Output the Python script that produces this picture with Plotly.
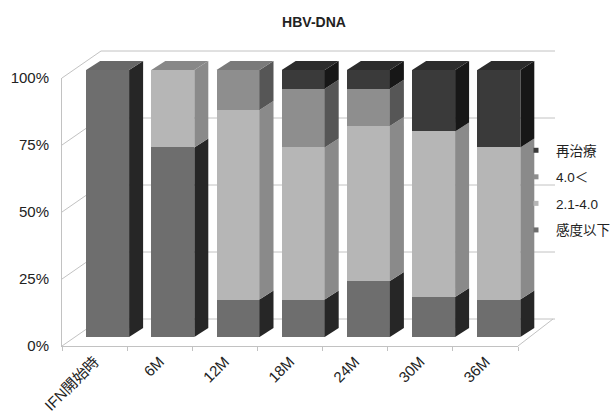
import plotly.graph_objects as go

# ---------------- data ----------------
categories = ["IFN開始時", "6M", "12M", "18M", "24M", "30M", "36M"]
series_names = ["感度以下", "2.1-4.0", "4.0＜", "再治療"]
kando_ika = [100, 71, 14, 14, 21, 15, 14]
v_21_40 = [0, 29, 71, 57, 58, 62, 57]
v_over40 = [0, 0, 15, 22, 14, 0, 0]
saichiryo = [0, 0, 0, 7, 7, 23, 29]
y_tick_vals = [0, 25, 50, 75, 100]
y_tick_text = ["0%", "25%", "50%", "75%", "100%"]
title_text = "HBV-DNA"

series_values = [kando_ika, v_21_40, v_over40, saichiryo]

# ---------------- styles ----------------
front_colors = ["#6e6e6e", "#b6b6b6", "#8e8e8e", "#3a3a3a"]
side_colors = ["#262626", "#8a8a8a", "#565656", "#171717"]
top_colors = ["#686868", "#888888", "#7a7a7a", "#2c2c2c"]
grid_color = "#c2c2c2"
FONT = "Liberation Sans, Arial, Noto Sans CJK JP, sans-serif"

W, H = 610, 415

def fx(p):
    return p / W

def fy(p):
    return 1 - p / H

# front (label) axis geometry in pixels
AX_L, AX_R = 62, 518
AX_Y0, AX_Y100 = 346, 78
# wall depth offset
WALL_DX, WALL_DY = 39, 27
WALL_R = 555

# bar axis geometry in pixels
BAR_X0 = 75          # left edge of slot area
SLOT = 65.2
BAR_XEND = 565
BAR_Y0, BAR_Y100 = 337, 70
BAR_YTOP = 45
BAR_W_PX = 43
DEPTH_DX_PX, DEPTH_DY_PX = 14, 9

n = len(categories)
x2_range = [-0.5, -0.5 + (BAR_XEND - BAR_X0) / SLOT]
y_unit_px = (BAR_Y0 - BAR_Y100) / 100.0
y2_range = [0, (BAR_Y0 - BAR_YTOP) / y_unit_px]
bw = BAR_W_PX / SLOT
ddx = DEPTH_DX_PX / SLOT
ddy = DEPTH_DY_PX / y_unit_px

fig = go.Figure()

# invisible trace to register category axis
fig.add_trace(go.Scatter(x=categories, y=[0] * n, mode="markers",
                         marker=dict(opacity=0), showlegend=False,
                         hoverinfo="skip", xaxis="x", yaxis="y"))

xs = list(range(n))
# front faces
for name, vals, col in zip(series_names, series_values, front_colors):
    fig.add_trace(go.Bar(x=xs, y=vals, width=bw, name=name,
                         marker=dict(color=col, line=dict(width=0)),
                         showlegend=False, xaxis="x2", yaxis="y2",
                         customdata=[categories[i] for i in xs],
                         hovertemplate="%{customdata} " + name + ": %{y}%<extra></extra>"))

# side and top faces derived from the stacked values
for i in xs:
    base = 0
    xr = i + bw / 2
    xl = i - bw / 2
    last_k = max(k for k in range(len(series_values)) if series_values[k][i] > 0)
    for k, vals in enumerate(series_values):
        v = vals[i]
        if v <= 0:
            continue
        top = base + v
        fig.add_trace(go.Scatter(
            x=[xr, xr + ddx, xr + ddx, xr, xr],
            y=[base, base + ddy, top + ddy, top, base],
            fill="toself", fillcolor=side_colors[k], mode="lines",
            line=dict(width=0), showlegend=False, hoverinfo="skip",
            xaxis="x2", yaxis="y2"))
        if k == last_k:
            fig.add_trace(go.Scatter(
                x=[xl, xr, xr + ddx, xl + ddx, xl],
                y=[top, top, top + ddy, top + ddy, top],
                fill="toself", fillcolor=top_colors[k], mode="lines",
                line=dict(width=0), showlegend=False, hoverinfo="skip",
                xaxis="x2", yaxis="y2"))
        base = top

# legend entries (top to bottom order)
for k in reversed(range(len(series_names))):
    fig.add_trace(go.Scatter(x=[None], y=[None], mode="markers",
                             marker=dict(symbol="square", size=5, color=front_colors[k]),
                             name=series_names[k], legendgroup=series_names[k],
                             xaxis="x", yaxis="y"))

# walls / floor decoration
def y_front_px(v):
    return AX_Y0 - (AX_Y0 - AX_Y100) * v / 100.0

shapes = []
for v in y_tick_vals:
    yf = y_front_px(v)
    yb = yf - WALL_DY
    shapes.append(dict(type="line", xref="paper", yref="paper", layer="below",
                       x0=fx(AX_L), y0=fy(yf), x1=fx(AX_L + WALL_DX), y1=fy(yb),
                       line=dict(color=grid_color, width=1)))
    shapes.append(dict(type="line", xref="paper", yref="paper", layer="below",
                       x0=fx(AX_L + WALL_DX), y0=fy(yb), x1=fx(WALL_R), y1=fy(yb),
                       line=dict(color=grid_color, width=1)))
# floor right edge
shapes.append(dict(type="line", xref="paper", yref="paper", layer="below",
                   x0=fx(AX_R), y0=fy(AX_Y0), x1=fx(WALL_R - 2),
                   y1=fy(AX_Y0 - WALL_DY),
                   line=dict(color=grid_color, width=1)))

fig.update_layout(
    width=W, height=H,
    margin=dict(l=0, r=0, t=0, b=0, autoexpand=False),
    paper_bgcolor="white", plot_bgcolor="rgba(0,0,0,0)",
    barmode="stack",
    font=dict(family=FONT, size=15, color="#222222"),
    title=dict(text="<b>" + title_text + "</b>", x=fx(314), y=fy(22),
               xanchor="center", yanchor="middle",
               font=dict(family=FONT, size=14, color="#222222")),
    shapes=shapes,
    showlegend=True,
    legend=dict(x=fx(516), xanchor="left", y=fy(135), yanchor="top",
                bgcolor="rgba(0,0,0,0)", font=dict(size=13.5, family=FONT),
                traceorder="grouped", tracegroupgap=6, itemwidth=30),
    xaxis=dict(type="category", domain=[fx(AX_L), fx(AX_R)], anchor="y",
               categoryorder="array", categoryarray=categories,
               range=[-0.5, n - 0.5], showline=True, linecolor=grid_color,
               linewidth=1, ticks="outside", tickson="boundaries", ticklen=4,
               tickcolor=grid_color, tickangle=-45, showgrid=False,
               zeroline=False, tickfont=dict(size=15), fixedrange=True,
               automargin=False),
    yaxis=dict(domain=[fy(AX_Y0), fy(AX_Y100)], anchor="x", range=[0, 100],
               tickvals=y_tick_vals, ticktext=y_tick_text, showline=True,
               linecolor=grid_color, linewidth=1, ticks="", showgrid=False,
               zeroline=False, tickfont=dict(size=15), ticklabelstandoff=9,
               fixedrange=True, automargin=False),
    xaxis2=dict(domain=[fx(BAR_X0), fx(BAR_XEND)], anchor="y2",
                range=x2_range, visible=False, fixedrange=True),
    yaxis2=dict(domain=[fy(BAR_Y0), fy(BAR_YTOP)], anchor="x2",
                range=y2_range, visible=False, fixedrange=True),
)

fig.write_html("out.html")
